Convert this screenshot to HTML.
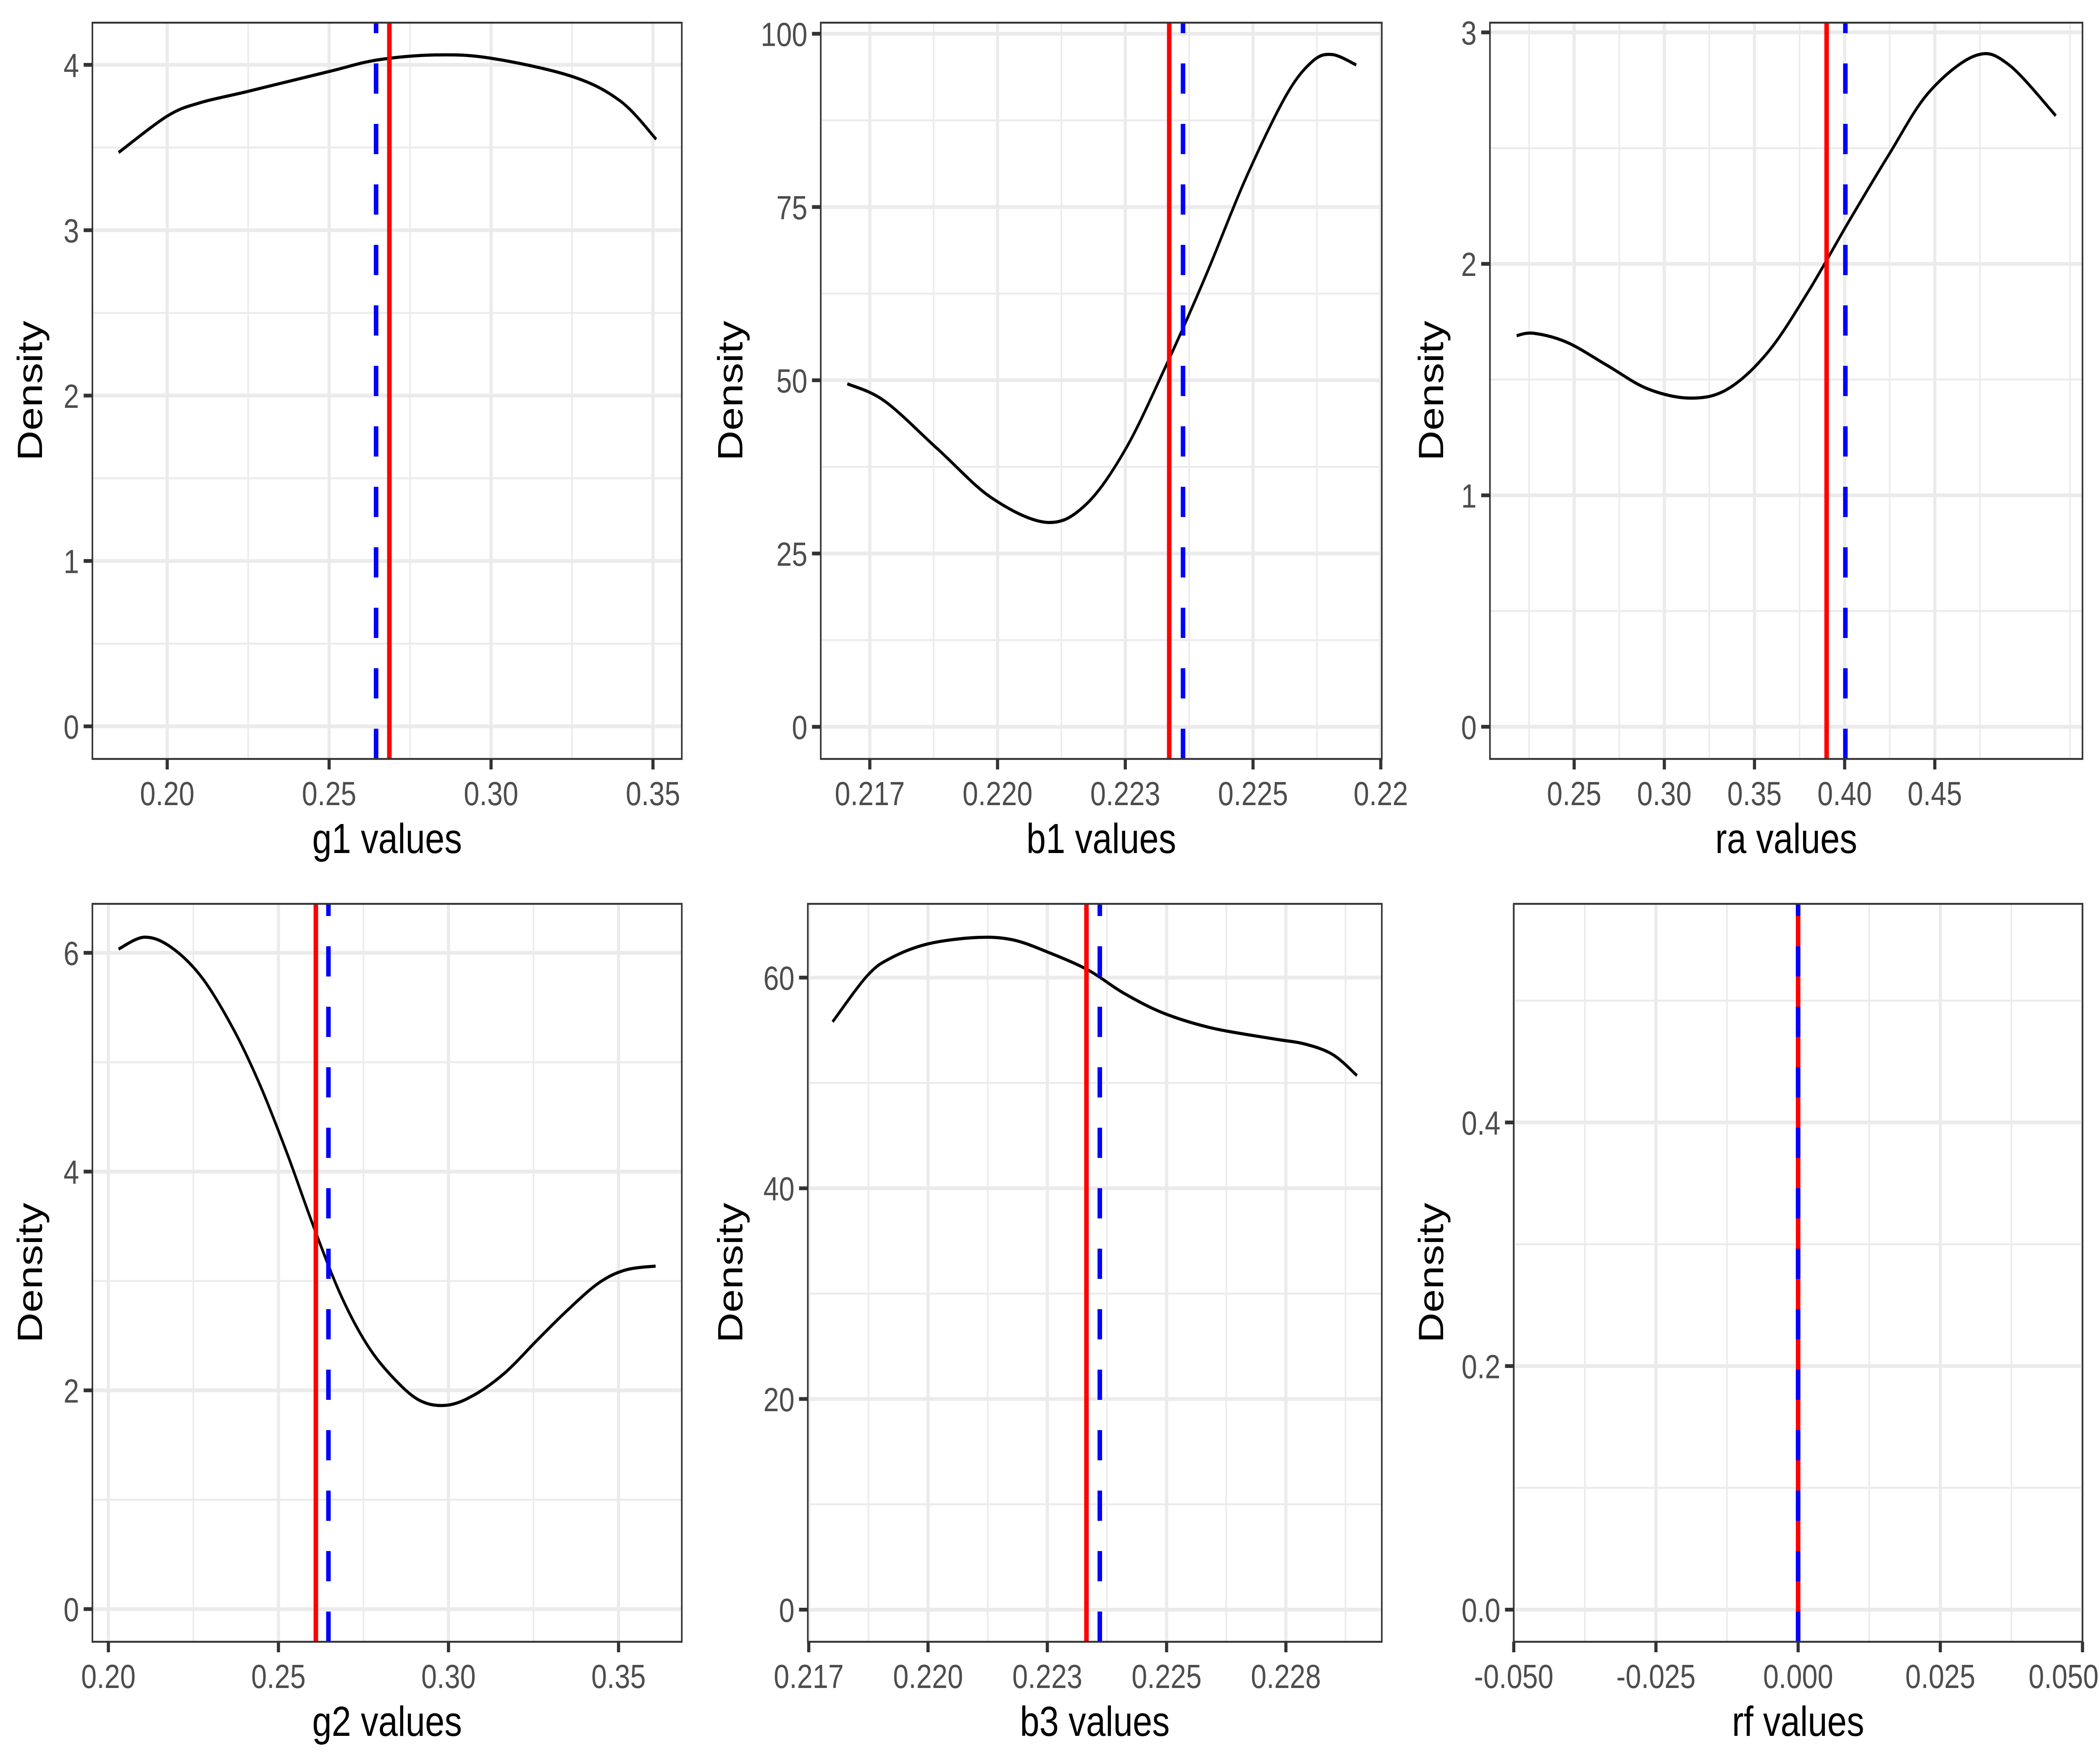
<!DOCTYPE html>
<html><head><meta charset="utf-8"><style>
html,body{margin:0;padding:0;background:#fff;width:100vw;height:100vh;overflow:hidden;}
svg{display:block;overflow:hidden;width:100vw;height:100vh;}
text{font-family:"Liberation Sans",Arial,sans-serif;}
</style></head>
<body>
<svg id="fig" xmlns="http://www.w3.org/2000/svg" viewBox="0 0 6000 4200" preserveAspectRatio="none"></svg>
<script>
// ---- data ----
const g1X = [0.185,0.200,0.210,0.225,0.250,0.265,0.283,0.300,0.325,0.340,0.351];
const g1Y = [3.47,3.69,3.77,3.84,3.96,4.03,4.06,4.04,3.93,3.78,3.55];
const b1X = [0.21706,0.21779,0.21884,0.21989,0.22096,0.22172,0.22250,0.22329,0.22407,0.22485,0.22564,0.22616,0.22655,0.22702];
const b1Y = [49.5,47,40,33,29.5,32,40,52,65,79,91,96,97,95.5];
const raX = [0.2181,0.2278,0.2463,0.2686,0.2908,0.3146,0.3353,0.3576,0.3798,0.4021,0.4244,0.4466,0.4726,0.4911,0.5171];
const raY = [1.69,1.70,1.66,1.56,1.46,1.42,1.46,1.62,1.88,2.18,2.47,2.74,2.90,2.86,2.64];
const g2X = [0.2030,0.2106,0.2185,0.2276,0.2368,0.2446,0.2525,0.2603,0.2682,0.2760,0.2839,0.2917,0.2996,0.3075,0.3166,0.3258,0.3349,0.3441,0.3520,0.3609];
const g2Y = [6.035,6.143,6.05,5.77,5.30,4.79,4.17,3.50,2.88,2.42,2.11,1.905,1.864,1.957,2.16,2.45,2.73,2.98,3.10,3.136];
const b3X = [0.21800,0.21873,0.21924,0.22000,0.22100,0.22176,0.22252,0.22336,0.22411,0.22495,0.22596,0.22722,0.22789,0.22848,0.22899];
const b3Y = [55.8,60.2,61.9,63.2,63.8,63.6,62.4,60.7,58.5,56.6,55.2,54.2,53.7,52.7,50.7];
const rfX = [];
const rfY = [];
// reference lines: red = solid, blue = dashed
const redLines = [0.2686,0.22336,0.3900,0.2610,0.22332,0.0];
const blueLines = [0.2645,0.22363,0.4004,0.2647,0.22360,0.0];
// axis domains [min,max]
const xDomains = [[0.1769,0.3589],[0.21654,0.22752],[0.2033,0.5319],[0.1953,0.3686],[0.21748,0.22951],[-0.05,0.05]];
const yDomains = [[-0.197,4.255],[-4.64,101.6],[-0.139,3.042],[-0.299,6.448],[-3.05,67.0],[-0.0264,0.5795]];
// ticks
const xBreaks = [[0.20,0.25,0.30,0.35],[0.2175,0.2200,0.2225,0.2250,0.2275],[0.25,0.30,0.35,0.40,0.45],[0.20,0.25,0.30,0.35],[0.2175,0.2200,0.2225,0.2250,0.2275],[-0.05,-0.025,0,0.025,0.05]];
const xTickLabels = [["0.20","0.25","0.30","0.35"],["0.217","0.220","0.223","0.225","0.22"],["0.25","0.30","0.35","0.40","0.45"],["0.20","0.25","0.30","0.35"],["0.217","0.220","0.223","0.225","0.228"],["-0.050","-0.025","0.000","0.025","0.050"]];
const yBreaks = [[0,1,2,3,4],[0,25,50,75,100],[0,1,2,3],[0,2,4,6],[0,20,40,60],[0,0.2,0.4]];
const yTickLabels = [["0","1","2","3","4"],["0","25","50","75","100"],["0","1","2","3"],["0","2","4","6"],["0","20","40","60"],["0.0","0.2","0.4"]];
const xTitles = ["g1 values","b1 values","ra values","g2 values","b3 values","rf values"];
const names = ["g1","b1","ra","g2","b3","rf"];

// ---- layout ----
const boxes = [[264,54,1948,1807],[2345,54,3948,1807],[4257,54,5950,1807],[264,2152,1948,3909],[2308,2152,3948,3909],[4325,2152,5950,3909]];
const ylabX = [84,2085,4087,84,2085,4087];
const seriesX = [g1X,b1X,raX,g2X,b3X,rfX];
const seriesY = [g1Y,b1Y,raY,g2Y,b3Y,rfY];

const NS = "http://www.w3.org/2000/svg";
const svg = document.getElementById('fig');
function mk(tag, attrs, parent){
  const e = document.createElementNS(NS, tag);
  for (const k in attrs) e.setAttribute(k, attrs[k]);
  (parent||svg).appendChild(e);
  return e;
}
function smoothPath(pts){
  if (pts.length < 2) return "";
  let d = "M"+pts[0][0].toFixed(1)+","+pts[0][1].toFixed(1);
  for (let i=0;i<pts.length-1;i++){
    const p0 = pts[i-1]||pts[i], p1=pts[i], p2=pts[i+1], p3=pts[i+2]||pts[i+1];
    const c1x = p1[0]+(p2[0]-p0[0])/6, c1y = p1[1]+(p2[1]-p0[1])/6;
    const c2x = p2[0]-(p3[0]-p1[0])/6, c2y = p2[1]-(p3[1]-p1[1])/6;
    d += " C"+c1x.toFixed(1)+","+c1y.toFixed(1)+" "+c2x.toFixed(1)+","+c2y.toFixed(1)+" "+p2[0].toFixed(1)+","+p2[1].toFixed(1);
  }
  return d;
}

for (let p=0;p<6;p++){
  const [L,T,R,B] = boxes[p];
  const [x0,x1] = xDomains[p], [y0,y1] = yDomains[p];
  const sx = v => L + (v-x0)/(x1-x0)*(R-L);
  const sy = v => B - (v-y0)/(y1-y0)*(B-T);
  const g = mk('g', {});
  
  
  mk('rect',{x:L,y:T,width:R-L,height:B-T,fill:'#ffffff'},g);
  const xb = xBreaks[p], yb = yBreaks[p];
  const xs = xb[1]-xb[0], ys = yb[1]-yb[0];
  for (let v = xb[0]-xs/2; v < x1; v += xs){
    if (v <= x0) continue;
    const l = mk('line',{x1:sx(v),x2:sx(v),y1:T,y2:B,stroke:'#ebebeb','stroke-width':4.5},g);
    
    
  }
  for (let v = yb[0]-ys/2; v < y1; v += ys){
    if (v <= y0) continue;
    const l = mk('line',{x1:L,x2:R,y1:sy(v),y2:sy(v),stroke:'#ebebeb','stroke-width':4.5},g);
    
    
  }
  xb.forEach(v=>{
    const l = mk('line',{x1:sx(v),x2:sx(v),y1:T,y2:B,stroke:'#ebebeb','stroke-width':9},g);
    
    
  });
  yb.forEach(v=>{
    const l = mk('line',{x1:L,x2:R,y1:sy(v),y2:sy(v),stroke:'#ebebeb','stroke-width':9},g);
    
    
  });
  const pts = seriesX[p].map((v,i)=>[sx(v), sy(seriesY[p][i])]);
  if (pts.length){
    const c = mk('path',{d:smoothPath(pts),fill:'none',stroke:'#000','stroke-width':7.5,'stroke-linecap':'butt','stroke-linejoin':'round'},g);
    
    
  }
  const rl = mk('line',{x1:sx(redLines[p]),x2:sx(redLines[p]),y1:T,y2:B,stroke:'#ff0000','stroke-width':13},g);
  
  
  const bl = mk('line',{x1:sx(blueLines[p]),x2:sx(blueLines[p]),y1:B,y2:T,stroke:'#0000ff','stroke-width':13,'stroke-dasharray':'72 72'},g);
  
  
  const br = mk('rect',{x:L,y:T,width:R-L,height:B-T,fill:'none',stroke:'#333333','stroke-width':4.5},g);
  
  
  xb.forEach((v,i)=>{
    const t = mk('line',{x1:sx(v),x2:sx(v),y1:B,y2:B+25,stroke:'#333333','stroke-width':9},g);
    
    
    const tx = mk('text',{x:sx(v),y:B+110,'text-anchor':'middle','font-size':80,fill:'#4d4d4d'},g);
    tx.textContent = xTickLabels[p][i];
    
    
    const bb = tx.getBBox();
    if (bb.x + bb.width > 5996){
      tx.setAttribute('text-anchor','end');
      tx.setAttribute('x', 5996);
    }
  });
  yb.forEach((v,i)=>{
    const t = mk('line',{x1:L-25,x2:L,y1:sy(v),y2:sy(v),stroke:'#333333','stroke-width':9},g);
    
    
    const tx = mk('text',{x:L-38,y:sy(v)+29,'text-anchor':'end','font-size':80,fill:'#4d4d4d'},g);
    tx.textContent = yTickLabels[p][i];
    
    
  });
  const xt = mk('text',{x:(L+R)/2,y:B+224,'text-anchor':'middle','font-size':100,fill:'#000'},g);
  xt.textContent = xTitles[p];
  
  
  const cy = (T+B)/2, cx = ylabX[p]+36;
  const yt = mk('text',{x:cx,y:cy,'text-anchor':'middle','font-size':100,fill:'#000',transform:'rotate(-90 '+cx+' '+cy+')'},g);
  yt.textContent = 'Density';
  
  
}
</script>
</body></html>
